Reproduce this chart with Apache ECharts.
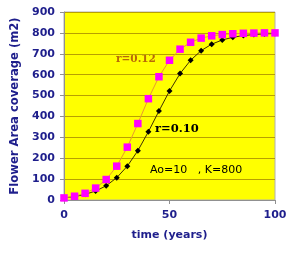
<!DOCTYPE html>
<html><head><meta charset="utf-8">
<script src="https://cdn.jsdelivr.net/npm/echarts@6/dist/echarts.min.js"></script>
<style>html,body{margin:0;padding:0;background:#fff}#c{width:300px;height:260px}</style>
</head><body><div id="c"></div>
<script>
var years = [0,5,10,15,20,25,30,35,40,45,50,55,60,65,70,75,80,85,90,95,100];
var coverR012 = [10,18,32,57,98,162,253,366,485,590,669,722,755,775,786,792,796,798,799,800,800];
var coverR010 = [10,16,27,43,68,107,162,236,327,426,522,605,669,715,746,766,779,787,792,795,797];
var yTicks = [0,100,200,300,400,500,600,700,800,900];
var xTicks = [0,50,100];

function pairs(xs, ys){ return xs.map(function(x,i){ return [x, ys[i]]; }); }

var navy = '#1e1e8c';
var chart = echarts.init(document.getElementById('c'), null, {renderer:'canvas'});
chart.setOption({
  animation:false,
  backgroundColor:'#ffffff',
  grid:{left:64,right:25,top:12,bottom:60,show:true,backgroundColor:'#ffff00',borderColor:'#b0b0b0',borderWidth:1},
  xAxis:{type:'value',min:0,max:100,interval:50,
    name:'time (years)',nameLocation:'middle',nameGap:30,
    nameTextStyle:{color:navy,fontFamily:'DejaVu Sans',fontWeight:'bold',fontSize:11},
    axisLine:{show:true,lineStyle:{color:'#909090'}},
    axisTick:{show:true,length:4,lineStyle:{color:'#909090'}},
    axisLabel:{color:navy,fontFamily:'DejaVu Sans',fontWeight:'bold',fontSize:11,margin:10},
    splitLine:{show:false}},
  yAxis:{type:'value',min:0,max:900,interval:100,
    name:'Flower Area coverage (m2)',nameLocation:'middle',nameGap:42,
    nameTextStyle:{color:navy,fontFamily:'DejaVu Sans',fontWeight:'bold',fontSize:11.6},
    axisLine:{show:true,lineStyle:{color:'#909090'}},
    axisTick:{show:true,length:4,lineStyle:{color:'#909090'}},
    axisLabel:{color:navy,fontFamily:'DejaVu Sans',fontWeight:'bold',fontSize:11,margin:9},
    splitLine:{show:true,lineStyle:{color:'#b8a000',width:1}}},
  series:[
    {type:'line',data:pairs(years,coverR010),symbol:'diamond',symbolSize:6,
     lineStyle:{color:'#403000',width:1},itemStyle:{color:'#000000'},z:3},
    {type:'line',data:pairs(years,coverR012),symbol:'rect',symbolSize:7.5,
     lineStyle:{color:'#e89a30',width:1},itemStyle:{color:'#ff00ff'},z:4}
  ],
  graphic:[
    {type:'text',left:116,top:54,style:{text:'r=0.12',fill:'#b86808',font:'bold 10.5px "DejaVu Serif"'}},
    {type:'text',left:155,top:123,style:{text:'r=0.10',fill:'#000000',font:'bold 11.5px "DejaVu Serif"'}},
    {type:'text',left:150,top:165,style:{text:'Ao=10   , K=800',fill:'#000000',font:'11px "DejaVu Sans"'}}
  ]
});
</script></body></html>
